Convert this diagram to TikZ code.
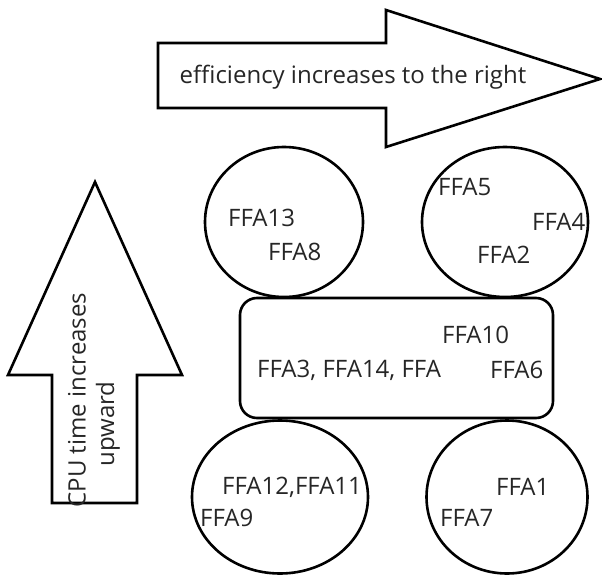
\documentclass[tikz,border=0pt]{standalone}
\usepackage{fontspec}
\setmainfont{Open Sans}
\usetikzlibrary{shapes.geometric}
\begin{document}
\begin{tikzpicture}[x={(1pt,0)},y={(0,-1pt)},
  outl/.style={draw=black,line width=2.6pt,line join=miter},
  blob/.style={ellipse,draw=black,line width=2.6pt,inner sep=0pt},
  lbl/.style={font=\fontsize{24}{28}\selectfont,text=black!85,inner sep=0pt,anchor=west},
  big/.style={font=\fontsize{24}{28}\selectfont,text=black!85,inner sep=0pt}]
\useasboundingbox (0,0) rectangle (602,575);
% right arrow
\draw[outl] (158,43) -- (386,43) -- (386,10) -- (600,79) -- (386,147) -- (386,108) -- (158,108) -- cycle;
\node[big] (eff) at (353,77) {efficiency increases to the right};
% up arrow
\draw[outl] (95,182) -- (182,375) -- (137,375) -- (137,503) -- (52,503) -- (52,375) -- (8,375) -- cycle;
\node[big,rotate=90] (cpu) at (77,400) {CPU time increases};
\node[big,rotate=90] (up) at (108,424) {upward};
% circles
\node[blob,minimum width=158,minimum height=150] (c1) at (284,222) {};
\node[blob,minimum width=166,minimum height=150] (c2) at (505,222) {};
\node[blob,minimum width=176,minimum height=153] (c3) at (280,497) {};
\node[blob,minimum width=161,minimum height=153] (c4) at (507,497) {};
% rounded rectangle
\node[draw=black,line width=2.6pt,rounded corners=17pt,minimum width=313,minimum height=120,inner sep=0pt] (box) at (396.5,358) {};
% labels
\node[lbl] (a13) at (228,218) {FFA13};
\node[lbl] (a8) at (268,252) {FFA8};
\node[lbl] (a5) at (438,187) {FFA5};
\node[lbl] (a4) at (532,222) {FFA4};
\node[lbl] (a2) at (477,255) {FFA2};
\node[lbl] (a10) at (442,335) {FFA10};
\node[lbl] (a3) at (257,370) {FFA3, FFA14, FFA};
\node[lbl] (a6) at (490,370) {FFA6};
\node[lbl] (a12) at (222,487) {FFA12,FFA11};
\node[lbl] (a9) at (200,518) {FFA9};
\node[lbl] (a1) at (496,487) {FFA1};
\node[lbl] (a7) at (440,518) {FFA7};
\end{tikzpicture}
\end{document}
